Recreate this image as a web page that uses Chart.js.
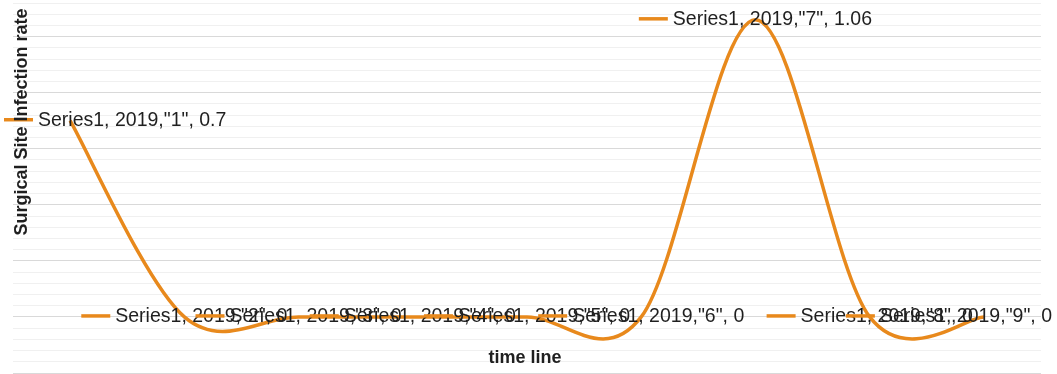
<!DOCTYPE html>
<html>
<head>
<meta charset="utf-8">
<script src="https://cdn.jsdelivr.net/npm/chart.js@4/dist/chart.umd.min.js"></script>
<style>
  html, body { margin: 0; padding: 0; background: #fff; }
  #wrap { width: 1057px; height: 374px; }
</style>
</head>
<body>
<div id="wrap"><canvas id="chart-ssi"></canvas></div>
<script>
const seriesName = 'Series1';
const year = 2019;
const periods = ['1', '2', '3', '4', '5', '6', '7', '8', '9'];
const ssiRate = [0.7, 0, 0, 0, 0, 0, 1.06, 0, 0];

const ORANGE = '#e8891c';
const TEXT = '#1f1f1f';
const LABEL_FONT = '19.5px "Liberation Sans", Arial, sans-serif';
const TITLE_FONT = 'bold 18px "Liberation Sans", Arial, sans-serif';

const isMajor = v => Math.abs(v / 0.2 - Math.round(v / 0.2)) < 1e-6;

// office-style smoothing: uniform catmull-rom, tangent = (next - prev) / 6
const uniformSpline = {
  id: 'uniformSpline',
  beforeDatasetsDraw(chart) {
    const meta = chart.getDatasetMeta(0);
    const line = meta.dataset;
    line.updateControlPoints(chart.chartArea, meta.iScale.axis);
    const pts = meta.data;
    pts.forEach((p, i) => {
      const prev = pts[Math.max(0, i - 1)];
      const next = pts[Math.min(pts.length - 1, i + 1)];
      const dx = (next.x - prev.x) / 6, dy = (next.y - prev.y) / 6;
      p.cp1x = p.x - dx; p.cp1y = p.y - dy;
      p.cp2x = p.x + dx; p.cp2y = p.y + dy;
    });
    line._path = undefined;
  }
};

// labels with a legend key + "series, year,"cat", value", centred on each point
const pointLabels = {
  id: 'pointLabels',
  afterDatasetsDraw(chart) {
    const { ctx } = chart;
    const meta = chart.getDatasetMeta(0);
    const keyLen = 29, gap = 5;
    ctx.save();
    ctx.font = LABEL_FONT;
    ctx.textBaseline = 'middle';
    ctx.textAlign = 'left';
    meta.data.forEach((pt, i) => {
      const txt = `${seriesName}, ${year},"${periods[i]}", ${ssiRate[i]}`;
      const w = keyLen + gap + ctx.measureText(txt).width;
      let left = pt.x - w / 2;
      left = Math.max(4, Math.min(left, chart.width - 5 - w));
      ctx.strokeStyle = ORANGE;
      ctx.lineWidth = 3.5;
      ctx.beginPath();
      ctx.moveTo(left, pt.y - 1);
      ctx.lineTo(left + keyLen, pt.y - 1);
      ctx.stroke();
      ctx.fillStyle = TEXT;
      ctx.fillText(txt, left + keyLen + gap, pt.y);
    });
    ctx.restore();
  }
};

// axis titles sit over the plot area, so they are drawn by hand
const axisTitles = {
  id: 'axisTitles',
  afterDraw(chart) {
    const { ctx } = chart;
    ctx.save();
    ctx.font = TITLE_FONT;
    ctx.fillStyle = TEXT;
    ctx.textAlign = 'center';
    ctx.textBaseline = 'middle';
    ctx.fillText('time line', 525, 358);
    ctx.translate(22, 122);
    ctx.rotate(-Math.PI / 2);
    ctx.fillText('Surgical Site Infection rate', 0, 0);
    ctx.restore();
  }
};

new Chart(document.getElementById('chart-ssi'), {
  type: 'line',
  data: {
    labels: periods,
    datasets: [{
      label: seriesName,
      data: ssiRate,
      borderColor: ORANGE,
      borderWidth: 3.5,
      tension: 0.5,
      pointRadius: 0,
      fill: false,
      clip: false
    }]
  },
  options: {
    responsive: true,
    maintainAspectRatio: false,
    animation: false,
    layout: { padding: { left: 13, right: 16, top: 3, bottom: 1 } },
    plugins: { legend: { display: false }, tooltip: { enabled: false } },
    scales: {
      x: {
        offset: true,
        grid: { display: false, drawTicks: false },
        border: { display: false },
        ticks: { display: false }
      },
      y: {
        min: -0.2,
        max: 1.12,
        grid: {
          drawTicks: false,
          color: c => isMajor(c.tick.value) ? '#d9d9d9' : '#f0f0f0',
          lineWidth: 1
        },
        border: { display: false },
        ticks: { display: false, stepSize: 0.04 }
      }
    }
  },
  plugins: [uniformSpline, pointLabels, axisTitles]
});
</script>
</body>
</html>
